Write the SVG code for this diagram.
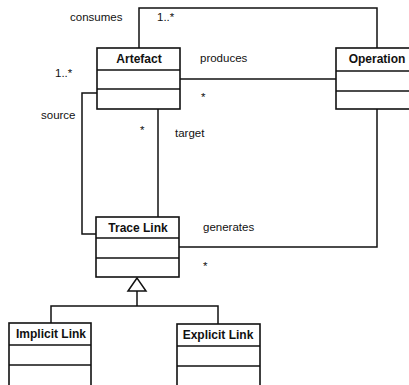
<svg xmlns="http://www.w3.org/2000/svg" width="409" height="385" viewBox="0 0 409 385">
  <style>
    .box { fill: #fff; stroke: #111; stroke-width: 1.6; }
    .div { stroke: #111; stroke-width: 1.6; }
    .edge { fill: none; stroke: #111; stroke-width: 1.5; }
    .title { font-family: "Liberation Sans", Arial, sans-serif; font-weight: bold; font-size: 12px; fill: #111; text-anchor: middle; }
    .lbl { font-family: "Liberation Sans", Arial, sans-serif; font-size: 11.5px; fill: #111; }
  </style>
  <rect width="409" height="385" fill="#fff"/>

  <!-- associations and generalization -->
  <g id="connectors">
    <!-- consumes -->
    <polyline class="edge" points="139,48 139,8 377,8 377,48"/>
    <!-- produces -->
    <line class="edge" x1="180" y1="79" x2="336" y2="79"/>
    <!-- source -->
    <polyline class="edge" points="97,93 82,93 82,234 96,234"/>
    <!-- target -->
    <line class="edge" x1="158" y1="109" x2="158" y2="217"/>
    <!-- generates -->
    <polyline class="edge" points="377,109 377,247 179,247"/>
    <!-- inheritance -->
    <polygon class="edge" points="137,278 128,291 146,291"/>
    <line class="edge" x1="137" y1="291" x2="137" y2="306"/>
    <polyline class="edge" points="51,323 51,306 218,306 218,324"/>

    <text class="lbl" x="70" y="21">consumes</text>
    <text class="lbl" x="157" y="21">1..*</text>
    <text class="lbl" x="200" y="62">produces</text>
    <text class="lbl" x="201" y="101">*</text>
    <text class="lbl" x="55" y="77">1..*</text>
    <text class="lbl" x="41" y="119">source</text>
    <text class="lbl" x="140" y="134">*</text>
    <text class="lbl" x="175" y="137">target</text>
    <text class="lbl" x="203" y="231">generates</text>
    <text class="lbl" x="203" y="270">*</text>
  </g>

  <g id="artefact">
    <rect class="box" x="97" y="48" width="83" height="61"/>
    <line class="div" x1="97" y1="70" x2="180" y2="70"/>
    <line class="div" x1="97" y1="89" x2="180" y2="89"/>
    <text class="title" x="139" y="63">Artefact</text>
  </g>

  <g id="operation">
    <rect class="box" x="336" y="48" width="82" height="61"/>
    <line class="div" x1="336" y1="71" x2="418" y2="71"/>
    <line class="div" x1="336" y1="91" x2="418" y2="91"/>
    <text class="title" x="377" y="63">Operation</text>
  </g>

  <g id="trace-link">
    <rect class="box" x="96" y="217" width="83" height="60"/>
    <line class="div" x1="96" y1="238" x2="179" y2="238"/>
    <line class="div" x1="96" y1="258" x2="179" y2="258"/>
    <text class="title" x="138" y="232">Trace Link</text>
  </g>

  <g id="implicit-link">
    <rect class="box" x="9" y="323" width="82" height="70"/>
    <line class="div" x1="9" y1="345" x2="91" y2="345"/>
    <line class="div" x1="9" y1="365" x2="91" y2="365"/>
    <text class="title" x="51" y="338">Implicit Link</text>
  </g>

  <g id="explicit-link">
    <rect class="box" x="177" y="324" width="83" height="70"/>
    <line class="div" x1="177" y1="346" x2="260" y2="346"/>
    <line class="div" x1="177" y1="366" x2="260" y2="366"/>
    <text class="title" x="218" y="339">Explicit Link</text>
  </g>
</svg>
